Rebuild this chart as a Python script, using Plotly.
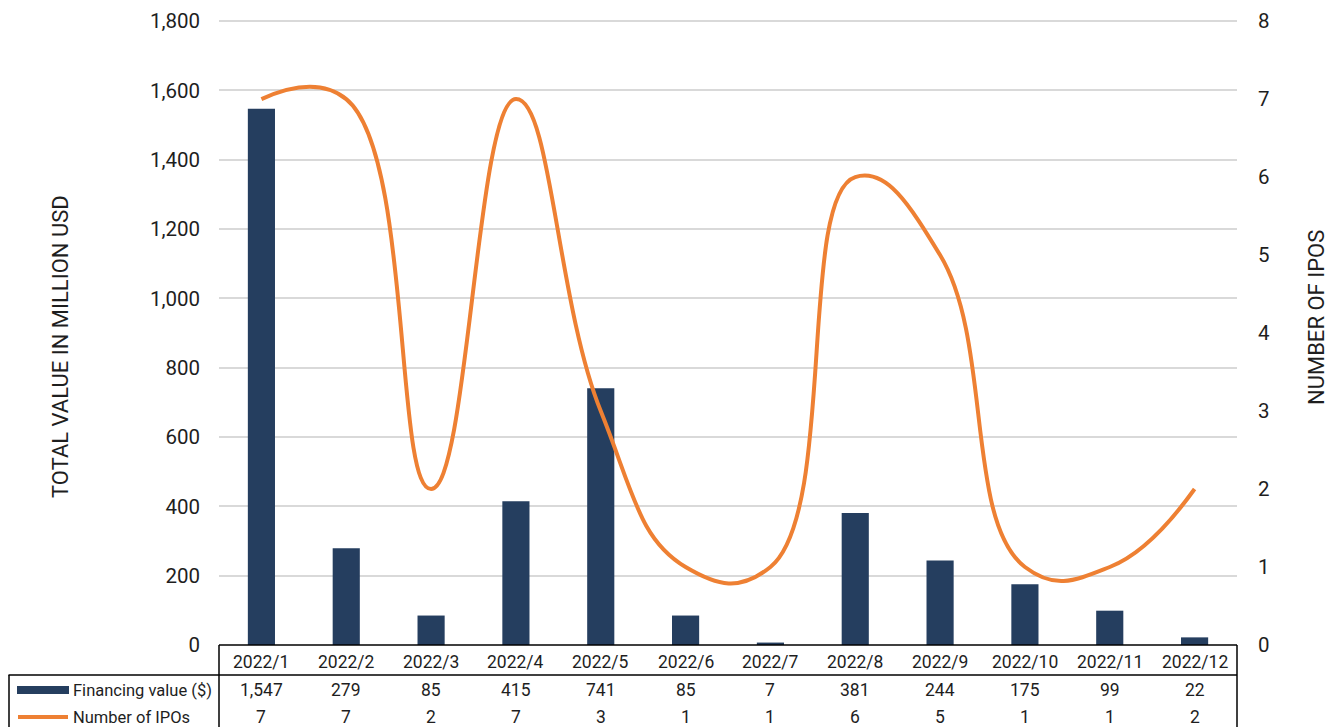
import plotly.graph_objects as go

months = ["2022/1", "2022/2", "2022/3", "2022/4", "2022/5", "2022/6",
          "2022/7", "2022/8", "2022/9", "2022/10", "2022/11", "2022/12"]
financing = [1547, 279, 85, 415, 741, 85, 7, 381, 244, 175, 99, 22]
ipos = [7, 7, 2, 7, 3, 1, 1, 6, 5, 1, 1, 2]
left_ticks = [0, 200, 400, 600, 800, 1000, 1200, 1400, 1600, 1800]
right_ticks = [0, 1, 2, 3, 4, 5, 6, 7, 8]

BAR = "#253E5F"
ORANGE = "#EE8033"
FONT = "Roboto"
TXT = "#1E1E1E"

OFF = 8  # page body margin
W, H = 1341 - OFF, 727 - OFF
L, R, T, B = 219 - OFF, 104, 18 - OFF, 82
pw, ph = W - L - R, H - T - B

def px_x(px):
    return (px - OFF - L) / pw

def px_y(py):
    return (H - B - (py - OFF)) / ph

# small headroom so the top gridline is drawn inside the plot area
HEAD = 1.005
Y1_MAX = 1800 * HEAD
Y2_MAX = 8 * HEAD

fig = go.Figure()
fig.add_trace(go.Bar(x=months, y=financing, name="Financing value ($)",
                     marker=dict(color=BAR, line=dict(width=0)), yaxis="y"))
fig.add_trace(go.Scatter(x=months, y=ipos, name="Number of IPOs", mode="lines",
                         line=dict(color=ORANGE, width=4, shape="spline", smoothing=1.3),
                         yaxis="y2"))

fig.update_layout(
    width=W, height=H,
    margin=dict(l=L, r=R, t=T, b=B, autoexpand=False),
    paper_bgcolor="white", plot_bgcolor="white",
    showlegend=False,
    bargap=0.68,
    font=dict(family=FONT, color=TXT, size=20),
    xaxis=dict(type="category", range=[-0.5, 11.5], showgrid=False,
               showticklabels=False, zeroline=False, showline=False,
               automargin=False),
    yaxis=dict(range=[0, Y1_MAX], tickvals=left_ticks, tickformat=",",
               showgrid=True, gridcolor="#D9D9D9", gridwidth=1.5,
               zeroline=False, showline=False, ticks="", automargin=False,
               ticklabelstandoff=18, tickfont=dict(size=20.5)),
    yaxis2=dict(range=[0, Y2_MAX], tickvals=right_ticks, overlaying="y", side="right",
                showgrid=False, zeroline=False, showline=False, ticks="",
                automargin=False,
                ticklabelstandoff=20, tickfont=dict(size=20.5)),
)

ann = []
# axis titles
ann.append(dict(text="TOTAL VALUE IN MILLION USD", xref="paper", yref="paper",
                x=px_x(60), y=px_y(347), textangle=-90, showarrow=False,
                font=dict(size=22, color=TXT), xanchor="center", yanchor="middle"))
ann.append(dict(text="NUMBER OF IPOS", xref="paper", yref="paper",
                x=px_x(1316), y=px_y(318), textangle=-90, showarrow=False,
                font=dict(size=22, color=TXT), xanchor="center", yanchor="middle"))
# table
for m, f, n in zip(months, financing, ipos):
    ann.append(dict(text=m, xref="x", yref="paper", x=m, y=px_y(662),
                    showarrow=False, font=dict(size=17.5, color=TXT), yanchor="middle"))
    ann.append(dict(text=f"{f:,}", xref="x", yref="paper", x=m, y=px_y(690),
                    showarrow=False, font=dict(size=17.5, color=TXT), yanchor="middle"))
    ann.append(dict(text=str(n), xref="x", yref="paper", x=m, y=px_y(717),
                    showarrow=False, font=dict(size=17.5, color=TXT), yanchor="middle"))
ann.append(dict(text="Financing value ($)", xref="paper", yref="paper",
                x=px_x(71), y=px_y(690), showarrow=False, xanchor="left",
                yanchor="middle", font=dict(size=16.5, color=TXT)))
ann.append(dict(text="Number of IPOs", xref="paper", yref="paper",
                x=px_x(71), y=px_y(717), showarrow=False, xanchor="left",
                yanchor="middle", font=dict(size=16.5, color=TXT)))

shapes = []
lc = dict(color="black", width=1.5)
# top line of header
shapes.append(dict(type="line", xref="paper", yref="paper",
                   x0=px_x(219), x1=px_x(1237), y0=px_y(645), y1=px_y(645), line=lc))
# line under header
shapes.append(dict(type="line", xref="paper", yref="paper",
                   x0=px_x(8.5), x1=px_x(1237), y0=px_y(675), y1=px_y(675), line=lc))
# vertical lines
shapes.append(dict(type="line", xref="paper", yref="paper",
                   x0=px_x(219), x1=px_x(219), y0=px_y(645), y1=px_y(740), line=lc))
shapes.append(dict(type="line", xref="paper", yref="paper",
                   x0=px_x(1237), x1=px_x(1237), y0=px_y(645), y1=px_y(740), line=lc))
shapes.append(dict(type="line", xref="paper", yref="paper",
                   x0=px_x(9), x1=px_x(9), y0=px_y(675), y1=px_y(740), line=lc))
# legend keys
shapes.append(dict(type="rect", xref="paper", yref="paper",
                   x0=px_x(17), x1=px_x(69), y0=px_y(694), y1=px_y(686),
                   fillcolor=BAR, line=dict(width=0)))
shapes.append(dict(type="line", xref="paper", yref="paper",
                   x0=px_x(18), x1=px_x(68), y0=px_y(717), y1=px_y(717),
                   line=dict(color=ORANGE, width=4)))

fig.update_layout(annotations=ann, shapes=shapes)
fig.write_html("out.html")
